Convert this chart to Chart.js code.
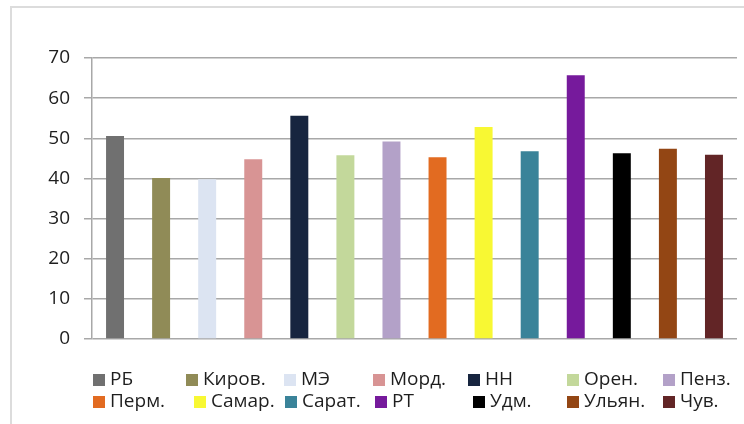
<!DOCTYPE html>
<html>
<head>
<meta charset="utf-8">
<script src="https://cdn.jsdelivr.net/npm/chart.js@4/dist/chart.umd.min.js"></script>
<style>
  html, body { margin: 0; padding: 0; background: #fff; }
  #wrap { position: relative; width: 744px; height: 424px; overflow: hidden; }
  #frame { position: absolute; left: 10px; top: 6px; width: 800px; height: 500px; border: 2px solid #dcdcdc; box-sizing: border-box; }
  canvas { position: absolute; left: 0; top: 0; }
</style>
</head>
<body>
<div id="wrap">
  <div id="frame"></div>
  <canvas id="c" width="744" height="424"></canvas>
</div>
<script>
// ---- data ----
const regions = ['РБ', 'Киров.', 'МЭ', 'Морд.', 'НН', 'Орен.', 'Пенз.',
                 'Перм.', 'Самар.', 'Сарат.', 'РТ', 'Удм.', 'Ульян.', 'Чув.'];
const values = [50.6, 40.1, 39.8, 44.8, 55.6, 45.8, 49.2,
                45.3, 52.8, 46.8, 65.7, 46.3, 47.4, 45.9];
const yTicks = [0, 10, 20, 30, 40, 50, 60, 70];
const colors = ['#707070', '#908B57', '#DCE4F2', '#D89494', '#17253F', '#C3D89B', '#B3A1C8',
                '#E26B21', '#F8F833', '#3A8399', '#761A9C', '#000000', '#934614', '#622526'];

// ---- legend layout (x of each box, per row) ----
const legendRowsX = [
  [93, 186, 284, 373, 468, 567, 663],
  [93, 194, 285, 375, 473, 567, 663]
];
const legendRowsY = [380, 402];

const FONT = "'Open Sans', 'Noto Sans', sans-serif";

const legendPlugin = {
  id: 'gridLegend',
  afterDraw(chart) {
    const ctx = chart.ctx;
    ctx.save();
    ctx.font = '19px ' + FONT;
    ctx.textBaseline = 'middle';
    ctx.textAlign = 'left';
    chart.data.datasets.forEach((ds, i) => {
      const row = i < 7 ? 0 : 1;
      const col = i % 7;
      const x = legendRowsX[row][col];
      const y = legendRowsY[row];
      ctx.fillStyle = ds.backgroundColor;
      ctx.fillRect(x, y - 6, 12, 12);
      ctx.fillStyle = '#1e1e1e';
      ctx.fillText(ds.label, x + 17, y);
    });
    ctx.restore();
  }
};

new Chart(document.getElementById('c'), {
  type: 'bar',
  data: {
    labels: [''],
    datasets: regions.map((r, i) => ({
      label: r,
      data: [values[i]],
      backgroundColor: colors[i],
      borderWidth: 0
    }))
  },
  options: {
    responsive: false,
    animation: false,
    devicePixelRatio: 1,
    layout: { padding: { left: 0, top: 58, right: 7, bottom: 85 } },
    datasets: { bar: { categoryPercentage: 1.0, barPercentage: 0.39 } },
    plugins: { legend: { display: false }, tooltip: { enabled: false } },
    scales: {
      x: { display: false },
      y: {
        min: 0, max: 70,
        afterBuildTicks: (s) => { s.ticks = yTicks.map(v => ({ value: v })); },
        afterFit: (s) => { s.width = 92; },
        ticks: { font: { family: FONT, size: 19 }, color: '#1e1e1e', padding: 14 },
        grid: { color: '#a8a8a8', lineWidth: 1.5, tickLength: 8, tickColor: '#a8a8a8' },
        border: { display: true, color: '#a8a8a8', width: 1.5 }
      }
    }
  },
  plugins: [legendPlugin]
});
</script>
</body>
</html>
